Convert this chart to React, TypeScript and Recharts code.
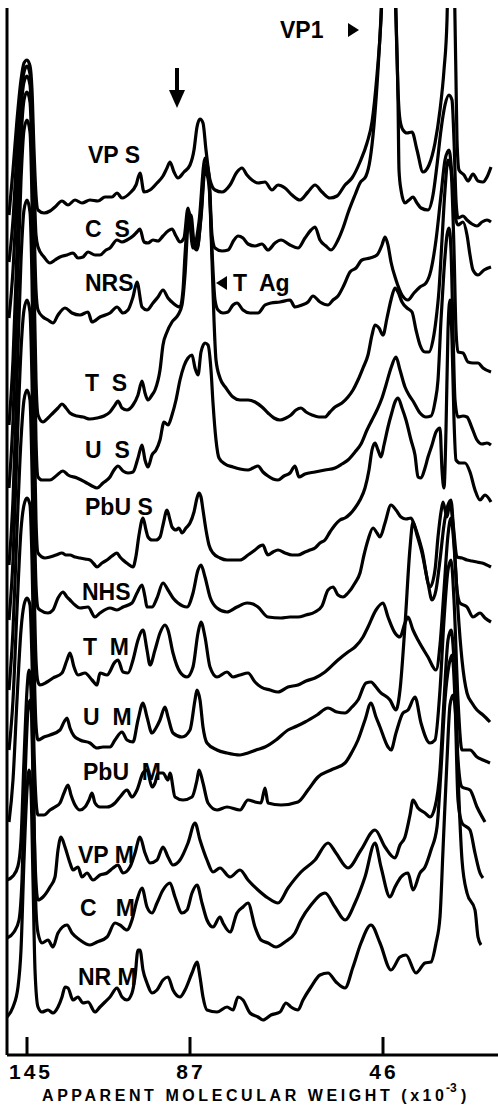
import React from 'react';
import { LineChart, Line, XAxis, YAxis, ReferenceDot, ReferenceLine } from 'recharts';

type Pt = [number, number];

// x = migration distance from the left edge of the scan, y = stacked absorbance
const VP_S: Pt[] = [[2,840],[6,885],[10,935],[14,975],[17,992],[20,995],[23,989],[25,965],[27,905],[29,860],[31,845],[37,842],[43,844],[48,848],[55,854],[61,850],[68,855],[75,852],[83,855],[91,854],[98,858],[105,858],[110,862],[115,857],[123,862],[129,870],[133,882],[137,863],[143,865],[150,872],[156,879],[160,887],[163,893],[167,883],[171,877],[177,883],[183,890],[187,905],[190,928],[193,936],[196,932],[199,905],[203,875],[208,865],[215,863],[223,870],[230,883],[235,887],[240,880],[245,875],[251,872],[258,873],[265,865],[271,870],[278,867],[285,860],[293,855],[301,863],[308,870],[315,863],[323,857],[330,859],[338,870],[345,877],[353,893],[360,912],[365,933],[370,980],[374,1035],[381,1255],[389,1035],[391,965],[393,935],[396,925],[400,922],[405,923],[410,905],[416,883],[422,890],[428,912],[433,945],[437,985],[440,1035],[444,1255],[448,1035],[449,975],[450,915],[452,885],[457,880],[461,874],[466,881],[471,874],[476,873],[480,878],[484,888]];
const C_S: Pt[] = [[2,793],[6,835],[10,905],[14,960],[17,983],[20,989],[23,981],[25,945],[27,875],[29,820],[31,808],[37,798],[43,792],[48,795],[53,798],[60,800],[66,802],[71,797],[76,798],[81,803],[88,800],[93,800],[99,805],[103,807],[110,815],[115,813],[120,815],[126,819],[130,823],[133,826],[137,813],[141,812],[146,815],[151,814],[156,819],[161,824],[165,826],[169,819],[173,813],[177,817],[181,847],[186,807],[192,833],[198,897],[202,879],[205,820],[208,807],[215,804],[221,805],[227,815],[231,819],[236,817],[241,811],[248,809],[255,811],[261,805],[268,812],[274,815],[283,810],[291,807],[298,817],[304,825],[308,828],[313,815],[319,809],[324,805],[331,815],[336,827],[341,842],[348,860],[353,872],[359,879],[363,895],[367,930],[371,985],[374,1040],[381,1255],[389,1040],[391,955],[392,885],[394,865],[398,852],[402,855],[406,858],[410,852],[414,847],[421,845],[426,860],[430,890],[434,925],[438,950],[442,960],[445,955],[447,915],[449,855],[451,837],[456,839],[460,835],[465,831],[470,829],[475,833],[480,835],[484,833]];
const NRS: Pt[] = [[2,737],[6,785],[10,865],[14,945],[17,973],[20,979],[23,970],[25,925],[27,835],[29,765],[31,745],[36,738],[41,735],[46,732],[51,740],[58,747],[65,742],[73,740],[81,743],[85,733],[93,738],[103,742],[110,748],[116,742],[121,745],[126,758],[130,773],[135,748],[140,745],[146,752],[151,758],[156,765],[161,757],[166,752],[173,748],[176,765],[178,800],[182,843],[186,810],[190,805],[194,840],[198,890],[202,873],[205,805],[208,755],[211,745],[216,742],[221,743],[226,750],[230,752],[236,745],[243,742],[251,742],[258,750],[264,752],[273,753],[283,755],[288,748],[295,750],[301,753],[306,759],[313,753],[321,750],[326,755],[331,759],[337,770],[343,783],[349,787],[355,795],[363,797],[370,800],[375,810],[378,818],[381,810],[384,793],[389,775],[395,760],[401,755],[407,762],[413,768],[419,772],[424,785],[429,815],[434,860],[438,895],[442,905],[445,880],[448,840],[451,830],[456,833],[460,820],[463,800],[466,785],[471,780],[477,785],[484,788]];
const T_S: Pt[] = [[2,630],[6,695],[10,805],[14,915],[17,955],[20,963],[23,953],[25,895],[27,775],[29,675],[31,640],[36,633],[41,637],[46,642],[51,647],[55,651],[59,647],[63,642],[70,639],[76,638],[83,636],[90,637],[97,639],[103,643],[108,650],[111,654],[115,647],[120,645],[126,650],[131,660],[135,674],[138,662],[141,655],[145,660],[148,665],[153,685],[156,710],[160,723],[165,733],[171,740],[175,750],[178,780],[181,830],[184,840],[187,813],[190,807],[194,837],[198,885],[202,870],[205,795],[207,735],[209,695],[213,677],[219,667],[226,658],[233,655],[241,655],[248,653],[255,648],[261,642],[267,637],[273,635],[279,637],[284,640],[289,645],[294,647],[299,643],[305,640],[312,638],[318,638],[323,643],[328,648],[335,652],[341,658],[346,665],[351,675],[356,687],[361,700],[365,720],[368,730],[372,727],[376,720],[380,737],[384,755],[388,767],[391,763],[395,753],[400,747],[405,743],[409,725],[413,710],[418,703],[422,703],[426,715],[429,735],[432,765],[435,815],[438,865],[441,895],[444,885],[447,805],[449,725],[451,703],[456,702],[461,693],[466,692],[471,692],[476,687],[484,683]];
const U_S: Pt[] = [[2,567],[6,635],[10,755],[14,875],[17,925],[20,935],[23,923],[25,855],[27,725],[29,615],[31,578],[35,575],[43,575],[49,579],[56,584],[61,580],[70,577],[78,573],[85,569],[90,567],[96,572],[103,578],[107,585],[111,589],[116,584],[121,582],[126,583],[131,597],[135,610],[138,595],[141,588],[145,600],[149,605],[153,615],[157,633],[161,630],[165,640],[169,655],[173,675],[177,689],[181,697],[185,700],[188,687],[191,680],[194,703],[198,712],[201,710],[204,685],[206,652],[209,615],[212,597],[218,591],[226,588],[233,586],[241,585],[246,587],[251,589],[256,583],[261,579],[266,576],[271,575],[277,579],[283,582],[288,589],[292,578],[298,581],[308,583],[318,585],[328,587],[335,591],[341,595],[348,603],[354,611],[360,625],[365,635],[370,645],[375,657],[379,670],[384,687],[389,698],[393,685],[398,668],[402,660],[406,654],[413,642],[419,638],[424,639],[428,653],[431,675],[434,735],[437,785],[440,820],[442,827],[444,805],[446,725],[448,655],[451,638],[456,639],[460,638],[465,627],[470,615],[475,611],[480,612],[484,610]];
const PBU_S: Pt[] = [[2,490],[6,555],[10,675],[14,795],[17,845],[20,855],[23,843],[25,775],[27,635],[29,535],[31,502],[38,497],[43,498],[49,500],[55,502],[59,500],[63,500],[68,498],[73,497],[78,496],[83,495],[87,491],[90,488],[95,492],[100,495],[105,499],[110,502],[113,498],[116,495],[121,491],[126,488],[129,499],[132,520],[136,537],[139,525],[141,518],[145,515],[149,515],[153,518],[156,530],[160,545],[163,535],[165,528],[169,525],[172,527],[175,522],[179,527],[183,532],[187,543],[190,557],[192,562],[194,558],[196,545],[199,525],[202,510],[206,502],[213,497],[220,495],[226,495],[233,495],[241,500],[248,505],[253,509],[256,510],[259,503],[261,500],[266,503],[271,505],[278,502],[285,500],[291,500],[298,503],[303,505],[308,507],[313,512],[318,515],[323,523],[328,530],[333,535],[338,537],[343,541],[348,547],[353,555],[358,567],[362,585],[365,605],[368,612],[371,605],[374,598],[377,610],[381,628],[385,643],[388,653],[391,657],[395,647],[399,635],[404,615],[408,600],[411,578],[414,577],[418,587],[421,598],[425,610],[429,623],[433,627],[435,585],[437,567],[439,625],[441,725],[443,755],[445,715],[447,635],[449,595],[453,592],[458,592],[463,583],[468,565],[473,555],[478,560],[484,553]];
const NHS: Pt[] = [[2,435],[6,495],[10,605],[14,705],[17,745],[20,755],[23,743],[25,675],[27,555],[29,470],[31,447],[33,445],[41,442],[46,445],[51,457],[56,463],[60,458],[63,455],[68,450],[73,447],[81,448],[88,438],[93,442],[103,447],[110,445],[116,448],[125,452],[130,462],[135,470],[138,458],[140,448],[145,448],[150,457],[156,472],[161,465],[166,457],[171,452],[180,448],[186,462],[191,485],[194,490],[198,478],[203,458],[210,447],[220,443],[230,448],[240,452],[246,451],[251,448],[261,438],[274,437],[283,438],[291,438],[299,440],[308,443],[315,449],[321,465],[326,468],[331,460],[336,458],[341,462],[348,472],[353,482],[357,500],[361,515],[366,527],[370,522],[373,518],[378,532],[384,550],[389,545],[394,538],[399,536],[404,537],[408,528],[415,505],[423,468],[428,485],[431,518],[434,543],[436,553],[440,538],[443,553],[446,532],[450,498],[455,497],[460,495],[465,494],[470,493],[475,492],[484,488]];
const T_M: Pt[] = [[2,365],[6,425],[10,525],[14,615],[17,655],[20,665],[23,655],[25,585],[27,475],[29,395],[31,373],[33,370],[40,373],[46,377],[55,382],[60,395],[63,402],[67,388],[71,380],[78,382],[85,375],[90,370],[93,382],[100,380],[108,393],[111,395],[116,383],[121,382],[126,395],[131,415],[136,425],[140,405],[143,390],[148,405],[153,422],[158,430],[161,425],[166,402],[173,383],[180,378],[186,388],[191,422],[194,433],[198,418],[203,388],[210,378],[220,383],[226,378],[233,380],[241,382],[248,373],[254,368],[263,365],[271,363],[281,368],[291,370],[299,374],[308,377],[318,383],[331,395],[341,403],[348,408],[356,418],[361,428],[369,445],[376,452],[381,438],[388,422],[393,418],[398,432],[401,438],[406,425],[411,415],[421,398],[429,385],[433,410],[437,465],[441,520],[444,537],[447,510],[450,465],[453,452],[460,448],[466,438],[473,442],[478,437],[484,433]];
const U_M: Pt[] = [[2,305],[6,355],[10,445],[14,525],[17,550],[20,557],[23,550],[25,495],[27,395],[29,330],[31,315],[37,318],[43,320],[53,325],[57,333],[60,337],[63,327],[67,319],[73,315],[83,312],[90,307],[96,308],[103,308],[108,315],[115,323],[120,315],[126,313],[131,335],[136,352],[140,338],[145,322],[149,327],[153,335],[158,348],[161,338],[166,322],[175,318],[183,325],[188,355],[190,365],[193,355],[196,328],[200,312],[210,305],[220,302],[233,300],[241,302],[249,305],[258,308],[269,315],[281,325],[290,329],[298,333],[310,340],[321,347],[330,343],[338,342],[345,348],[351,355],[359,372],[364,373],[369,368],[373,363],[383,355],[389,345],[393,365],[398,430],[403,507],[406,533],[410,520],[415,502],[421,472],[425,455],[429,465],[433,495],[437,530],[441,550],[444,555],[447,515],[451,445],[455,395],[460,362],[465,352],[470,345],[476,340],[483,333]];
const PBU_M: Pt[] = [[2,233],[6,275],[10,355],[14,425],[17,450],[20,457],[23,450],[25,395],[27,305],[29,255],[31,240],[37,240],[43,245],[48,248],[53,252],[57,262],[61,270],[64,260],[68,250],[73,245],[78,248],[82,255],[85,262],[88,252],[93,248],[100,248],[108,252],[113,258],[120,265],[125,258],[130,265],[136,282],[140,285],[145,268],[148,272],[151,282],[156,282],[161,275],[163,282],[168,258],[176,255],[185,258],[190,275],[192,285],[196,272],[201,252],[210,245],[220,248],[233,245],[241,255],[248,253],[254,252],[258,267],[261,252],[274,250],[291,253],[301,265],[311,278],[324,285],[338,292],[345,303],[351,315],[358,335],[364,352],[369,338],[373,328],[381,308],[384,305],[389,322],[396,342],[401,345],[408,358],[414,332],[423,312],[428,315],[433,365],[437,435],[441,485],[444,495],[447,455],[451,355],[455,305],[463,305],[470,298],[476,295],[483,292]];
const VP_M: Pt[] = [[0,175],[6,179],[11,189],[14,215],[17,295],[20,365],[22,385],[24,365],[26,275],[28,195],[31,155],[36,158],[43,168],[48,178],[51,205],[54,218],[58,208],[63,192],[66,185],[71,188],[75,178],[80,182],[86,175],[93,180],[100,182],[106,187],[111,190],[116,182],[123,188],[128,202],[133,218],[138,202],[143,192],[150,195],[156,208],[161,198],[166,190],[173,195],[181,212],[188,232],[193,215],[200,195],[206,183],[213,187],[223,178],[233,185],[241,175],[251,165],[261,157],[271,152],[281,167],[294,183],[308,195],[321,212],[329,202],[341,187],[354,205],[368,225],[378,208],[388,197],[393,210],[398,218],[403,240],[406,255],[411,247],[418,242],[423,238],[428,248],[433,285],[437,355],[441,415],[444,425],[448,375],[451,295],[455,268],[463,265],[470,248],[478,233]];
const C_M: Pt[] = [[0,117],[7,123],[12,135],[15,175],[18,275],[21,345],[23,355],[25,335],[27,235],[29,145],[31,122],[35,112],[41,115],[46,108],[51,122],[60,130],[65,122],[73,115],[83,110],[90,113],[100,118],[108,132],[113,130],[120,125],[125,135],[130,155],[135,167],[140,148],[145,142],[150,152],[156,165],[163,172],[168,158],[175,142],[180,145],[185,162],[190,170],[195,152],[200,135],[206,128],[213,138],[216,132],[223,123],[230,142],[236,148],[241,152],[248,128],[254,115],[261,112],[269,108],[278,113],[288,122],[294,135],[304,150],[318,162],[328,148],[338,135],[348,152],[358,178],[368,212],[374,188],[383,158],[388,168],[394,178],[401,182],[406,165],[413,182],[418,188],[424,205],[430,228],[434,285],[438,355],[442,390],[445,400],[448,355],[451,255],[455,232],[463,225],[468,202],[473,182],[476,177]];
const NR_M: Pt[] = [[0,38],[6,48],[11,68],[14,105],[17,195],[20,265],[22,285],[24,265],[26,175],[28,85],[31,48],[35,43],[41,45],[46,42],[51,48],[55,58],[58,68],[61,67],[66,55],[71,58],[76,52],[81,53],[88,43],[93,48],[98,53],[103,58],[110,67],[115,58],[120,55],[125,62],[128,78],[131,105],[133,105],[136,85],[140,72],[145,62],[150,65],[156,75],[161,78],[166,65],[173,58],[178,65],[185,82],[190,93],[193,78],[196,58],[200,45],[210,43],[220,48],[226,45],[231,58],[236,55],[243,42],[251,38],[256,35],[264,40],[273,43],[279,52],[284,48],[291,45],[296,55],[304,68],[313,80],[321,82],[329,73],[338,67],[346,88],[354,112],[364,130],[373,112],[384,85],[393,98],[399,100],[409,82],[418,92],[424,93],[429,112],[433,138],[436,205],[440,295],[443,350],[446,360],[449,335],[452,255],[455,195],[460,162],[468,145],[471,118],[474,110]];

const TRACES: { name: string; pts: Pt[] }[] = [
  { name: 'VP S', pts: VP_S },
  { name: 'C S', pts: C_S },
  { name: 'NRS', pts: NRS },
  { name: 'T S', pts: T_S },
  { name: 'U S', pts: U_S },
  { name: 'PbU S', pts: PBU_S },
  { name: 'NHS', pts: NHS },
  { name: 'T M', pts: T_M },
  { name: 'U M', pts: U_M },
  { name: 'PbU M', pts: PBU_M },
  { name: 'VP M', pts: VP_M },
  { name: 'C M', pts: C_M },
  { name: 'NR M', pts: NR_M },
];

// lane labels, written next to each trace (x, y in chart units)
const LANE_TEXT = ['VP S', 'C  S', 'NRS', 'T  S', 'U  S', 'PbU S', 'NHS', 'T  M', 'U  M', 'PbU  M', 'VP M', 'C   M', 'NR M'];
const LANE_X = [81, 78, 78, 78, 78, 78, 75, 76, 76, 76, 71, 73, 71];
const LANE_Y = [900, 826, 772, 672, 605, 548, 463, 408, 338, 283, 200, 147, 78];

const TICK_POS = [20, 183, 376];
const TICK_LABELS = ['145', '87', '46'];

const FONT = '"Liberation Sans", Arial, Helvetica, sans-serif';
const INK = '#000';

const MwTick = (props: any) => {
  const { x, y, payload } = props;
  const i = TICK_POS.indexOf(payload.value);
  return (
    <g>
      <line x1={x} x2={x} y1={y} y2={y - 18} stroke={INK} strokeWidth={3} />
      <text
        x={x + (i === 0 ? 4 : 1)}
        y={y + 16}
        textAnchor="middle"
        dominantBaseline="central"
        fontFamily={FONT}
        fontWeight="bold"
        fontSize={21}
        letterSpacing={3}
        fill={INK}
      >
        {TICK_LABELS[i]}
      </text>
    </g>
  );
};

const AxisTitle = (props: any) => {
  const vb = props.viewBox || { x: 7, y: 1055 };
  const x0 = vb.x + 35;
  const y0 = vb.y + 40;
  return (
    <g fontFamily={FONT} fontWeight="bold" fill={INK}>
      <text x={x0} y={y0} fontSize={16} dominantBaseline="central" textLength={402} lengthAdjust="spacing">
        APPARENT MOLECULAR WEIGHT (x10
      </text>
      <text x={x0 + 404} y={y0 - 7} fontSize={12} dominantBaseline="central">-3</text>
      <text x={x0 + 419} y={y0} fontSize={16} dominantBaseline="central">)</text>
    </g>
  );
};

const laneLabel = (text: string) => (p: any) => (
  <text
    x={p.cx}
    y={p.cy}
    dominantBaseline="central"
    fontFamily={FONT}
    fontWeight="bold"
    fontSize={23}
    fill={INK}
    style={{ whiteSpace: 'pre' }}
  >
    {text}
  </text>
);

const DownArrow = (p: any) => (
  <g>
    <line x1={p.cx} x2={p.cx} y1={p.cy} y2={p.cy + 26} stroke={INK} strokeWidth={4} />
    <polygon points={`${p.cx - 8},${p.cy + 22} ${p.cx + 8},${p.cy + 22} ${p.cx},${p.cy + 40}`} fill={INK} />
  </g>
);

const RightHead = (p: any) => (
  <polygon points={`${p.cx - 5},${p.cy - 7} ${p.cx + 6},${p.cy} ${p.cx - 5},${p.cy + 7}`} fill={INK} />
);

const LeftHead = (p: any) => (
  <polygon points={`${p.cx + 5},${p.cy - 7} ${p.cx - 6},${p.cy} ${p.cx + 5},${p.cy + 7}`} fill={INK} />
);

export default function App() {
  return (
    <div style={{ width: 498, height: 1110, background: '#fff' }}>
      <style>{'body{margin:0;background:#fff}'}</style>
      <LineChart width={498} height={1110} margin={{ top: 8, right: 0, bottom: 0, left: 7 }}>
        <XAxis
          type="number"
          dataKey="x"
          domain={[0, 491]}
          ticks={TICK_POS}
          interval={0}
          height={55}
          tickLine={false}
          tickSize={0}
          tickMargin={0}
          tick={<MwTick />}
          axisLine={{ stroke: INK, strokeWidth: 3 }}
          allowDataOverflow
          label={{ content: <AxisTitle /> }}
        />
        <YAxis type="number" dataKey="y" domain={[0, 1047]} hide allowDataOverflow />
        <ReferenceLine x={0} stroke={INK} strokeWidth={3} />
        {TRACES.map((t) => (
          <Line
            key={t.name}
            name={t.name}
            data={t.pts.map(([x, y]) => ({ x, y }))}
            dataKey="y"
            type="monotone"
            dot={false}
            stroke={INK}
            strokeWidth={3.2}
            strokeLinejoin="round"
            isAnimationActive={false}
          />
        ))}
        {LANE_TEXT.map((s, i) => (
          <ReferenceDot key={s} x={LANE_X[i]} y={LANE_Y[i]} r={0} shape={laneLabel(s)} />
        ))}
        <ReferenceDot x={273} y={1025} r={0} shape={laneLabel('VP1')} />
        <ReferenceDot x={346} y={1025} r={0} shape={RightHead} />
        <ReferenceDot x={215} y={772} r={0} shape={LeftHead} />
        <ReferenceDot x={226} y={772} r={0} shape={laneLabel('T  Ag')} />
        <ReferenceDot x={170} y={987} r={0} shape={DownArrow} />
      </LineChart>
    </div>
  );
}
